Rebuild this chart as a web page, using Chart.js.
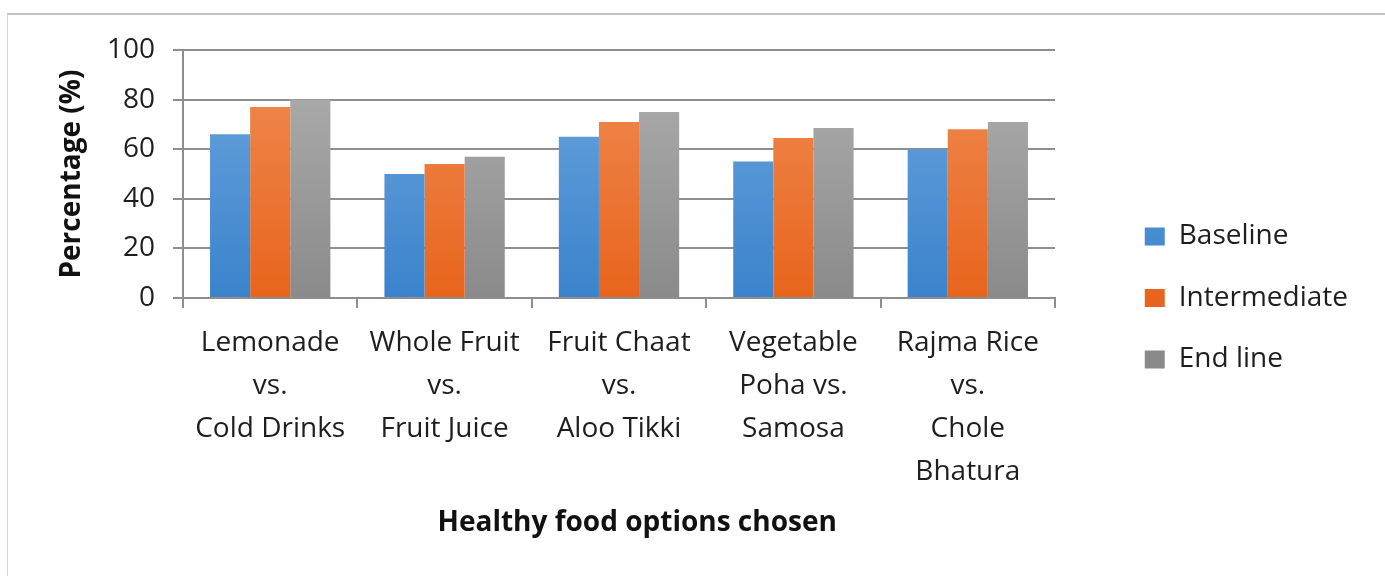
<!DOCTYPE html>
<html>
<head>
<meta charset="utf-8">
<script src="https://cdn.jsdelivr.net/npm/chart.js@4.4.0/dist/chart.umd.min.js"></script>
<style>
  html, body { margin: 0; padding: 0; background: #ffffff; }
  #wrap { position: relative; width: 1385px; height: 576px; }
  #frame { position: absolute; left: 7px; top: 13px; right: 0; bottom: 0;
           border-top: 2px solid #c4c4c4; border-left: 1px solid #d4d4d4; pointer-events: none; }
</style>
</head>
<body>
<div id="wrap">
  <canvas id="c" width="1385" height="576"></canvas>
  <div id="frame"></div>
</div>
<script>
const categories = [
  ["Lemonade", "vs.", "Cold Drinks"],
  ["Whole Fruit", "vs.", "Fruit Juice"],
  ["Fruit Chaat", "vs.", "Aloo Tikki"],
  ["Vegetable", "Poha vs.", "Samosa"],
  ["Rajma Rice", "vs.", "Chole", "Bhatura"]
];
const baseline = [66, 50, 65, 55, 60];
const intermediate = [77, 54, 71, 64.5, 68];
const endLine = [80, 57, 75, 68.5, 71];
const seriesNames = ["Baseline", "Intermediate", "End line"];
const yTicks = [0, 20, 40, 60, 80, 100];

function grad(top, bottom) {
  return function (ctx) {
    const area = ctx.chart.chartArea;
    if (!area) return bottom;
    const g = ctx.chart.ctx.createLinearGradient(0, area.top, 0, area.bottom);
    g.addColorStop(0, top);
    g.addColorStop(1, bottom);
    return g;
  };
}

const FONT = "'Open Sans', sans-serif";
const PAD = { top: 20, left: 30, right: 27, bottom: 0 };
const PLOT_LEFT = 183, PLOT_RIGHT = 1055, PLOT_TOP = 50;

function build() {
  new Chart(document.getElementById('c'), {
    type: 'bar',
    data: {
      labels: categories,
      datasets: [
        { label: seriesNames[0], data: baseline, backgroundColor: grad('#6ea6de', '#3a83cc') },
        { label: seriesNames[1], data: intermediate, backgroundColor: grad('#f08d55', '#e8641c') },
        { label: seriesNames[2], data: endLine, backgroundColor: grad('#b0b0b0', '#8a8a8a') }
      ]
    },
    options: {
      responsive: false,
      animation: false,
      devicePixelRatio: 1,
      layout: { padding: PAD },
      datasets: { bar: { barPercentage: 1.0, categoryPercentage: 0.69, borderWidth: 0 } },
      plugins: {
        tooltip: { enabled: false },
        legend: {
          position: 'right',
          align: 'center',
          maxWidth: 400,
          labels: {
            boxWidth: 20, boxHeight: 18, padding: 33.5,
            color: '#1e1e1e',
            font: { family: FONT, size: 28 }
          }
        }
      },
      scales: {
        x: {
          offset: true,
          grid: { offset: true, drawOnChartArea: false, drawTicks: true, tickLength: 10, color: '#8e8e8e', lineWidth: 2 },
          border: { display: true, color: '#8e8e8e', width: 2 },
          ticks: {
            autoSkip: false, maxRotation: 0, minRotation: 0, padding: 14,
            color: '#1e1e1e',
            font: { family: FONT, size: 28, lineHeight: 1.527 }
          },
          title: {
            display: true,
            text: '     Healthy food options chosen',
            color: '#111111',
            font: { family: FONT, size: 28, weight: 'bold' },
            padding: { top: 13, bottom: 36 }
          }
        },
        y: {
          min: 0, max: 100,
          afterBuildTicks: (s) => { s.ticks = yTicks.map(v => ({ value: v })); },
          afterFit: (s) => { s.width = PLOT_LEFT - PAD.left; s.paddingTop = PLOT_TOP; },
          grid: { color: '#8e8e8e', lineWidth: 2, tickLength: 10, drawTicks: true },
          border: { display: true, color: '#8e8e8e', width: 2 },
          ticks: {
            padding: 18,
            color: '#1e1e1e',
            font: { family: FONT, size: 28 }
          },
          title: {
            display: true,
            text: 'Percentage (%)',
            color: '#111111',
            font: { family: FONT, size: 28, weight: 'bold' },
            padding: { top: 25, bottom: 18 }
          }
        },
        gap: {
          position: 'right',
          display: true,
          grid: { display: false, drawTicks: false },
          border: { display: false },
          ticks: { display: false },
          afterFit: (s) => {
            const lw = (s.chart.legend && s.chart.legend.width) || 246;
            s.width = Math.max(0, s.chart.width - PAD.right - lw - PLOT_RIGHT);
          }
        }
      }
    }
  });
}

const fontLoads = [
  "28px 'Open Sans'", "bold 28px 'Open Sans'"
].map(f => document.fonts.load(f).catch(() => null));
Promise.all(fontLoads).then(build, build);
</script>
</body>
</html>
